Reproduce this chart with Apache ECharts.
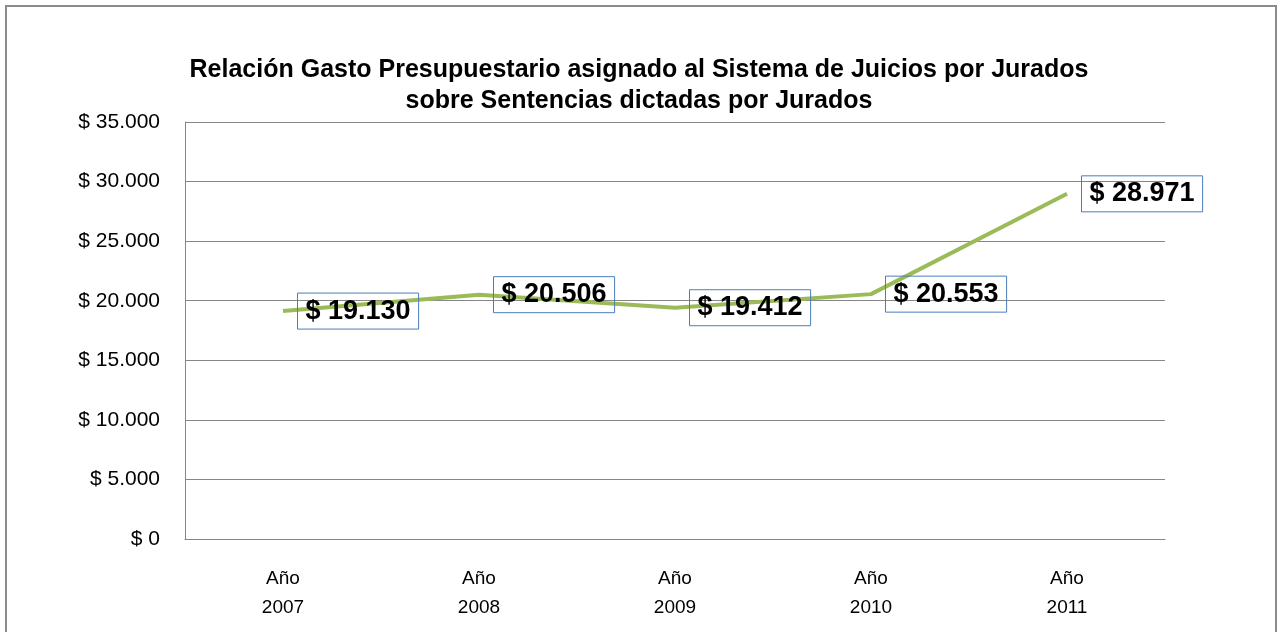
<!DOCTYPE html>
<html>
<head>
<meta charset="utf-8">
<script src="https://cdn.jsdelivr.net/npm/echarts@6/dist/echarts.min.js"></script>
<style>
html,body{margin:0;padding:0;background:#fff;}
#c{width:1278px;height:632px;}
</style>
</head>
<body>
<div id="c"></div>
<script>
var titleLines = ['Relación Gasto Presupuestario asignado al Sistema de Juicios por Jurados', 'sobre Sentencias dictadas por Jurados'];
var categories = ['Año\n2007', 'Año\n2008', 'Año\n2009', 'Año\n2010', 'Año\n2011'];
var values = [19130, 20506, 19412, 20553, 28971];
var yTicks = { min: 0, max: 35000, interval: 5000 };

function fmt(v) {
  return '$ ' + String(v).replace(/\B(?=(\d{3})+(?!\d))/g, '.');
}

var chart = echarts.init(document.getElementById('c'));
chart.setOption({
  backgroundColor: '#fff',
  animation: false,
  graphic: [{
    type: 'rect',
    shape: { x: 6, y: 6, width: 1270, height: 640 },
    style: { fill: 'none', stroke: '#8c8c8c', lineWidth: 2 },
    silent: true
  }],
  title: {
    text: titleLines.join('\n'),
    left: 'center',
    top: 50,
    textStyle: { fontFamily: 'Liberation Sans, Arial', fontSize: 25, fontWeight: 'bold', color: '#000', lineHeight: 31 }
  },
  grid: { left: 185, right: 113, top: 122, bottom: 93 },
  xAxis: {
    type: 'category',
    data: categories,
    boundaryGap: true,
    axisLine: { lineStyle: { color: '#868686', width: 1 } },
    axisTick: { show: false },
    axisLabel: { fontFamily: 'Liberation Sans, Arial', fontSize: 19, color: '#000', lineHeight: 29, margin: 25 }
  },
  yAxis: {
    type: 'value',
    min: yTicks.min, max: yTicks.max, interval: yTicks.interval,
    axisLine: { show: true, lineStyle: { color: '#868686', width: 1 } },
    axisTick: { show: false },
    splitLine: { lineStyle: { color: '#868686', width: 1 } },
    axisLabel: { fontFamily: 'Liberation Sans, Arial', fontSize: 21, color: '#000', margin: 25, formatter: function (v) { return fmt(v); } }
  },
  series: [{
    type: 'line',
    data: values,
    showSymbol: true,
    symbol: 'circle',
    symbolSize: 1,
    itemStyle: { color: 'rgba(0,0,0,0)' },
    lineStyle: { color: '#9bbb59', width: 4 },
    label: {
      show: true,
      position: 'right',
      distance: 14,
      formatter: function (p) { return fmt(p.value); },
      fontFamily: 'Liberation Sans, Arial',
      fontSize: 27,
      fontWeight: 'bold',
      color: '#000',
      borderColor: '#4a7ebb',
      borderWidth: 1,
      padding: [5, 8, 3, 8],
      lineHeight: 28
    }
  }]
});
</script>
</body>
</html>
